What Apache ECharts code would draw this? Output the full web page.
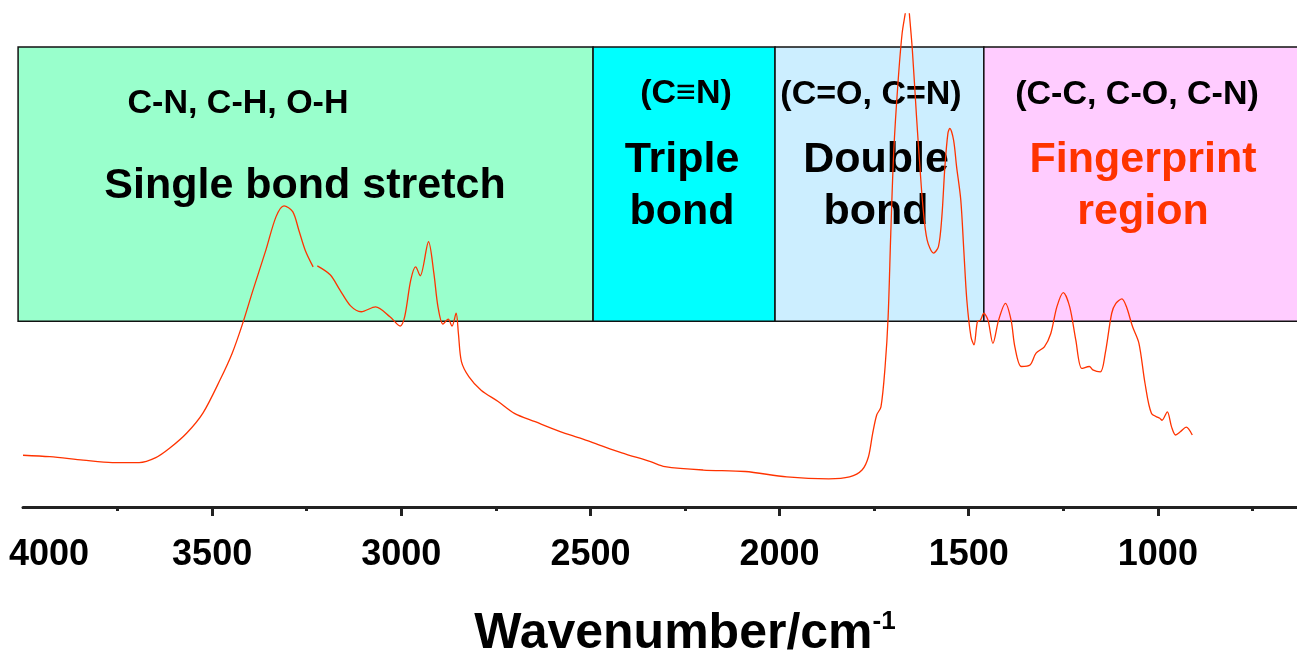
<!DOCTYPE html>
<html>
<head>
<meta charset="utf-8">
<script src="https://cdn.jsdelivr.net/npm/echarts@6.0.0/dist/echarts.min.js"></script>
<style>
html,body{margin:0;padding:0;background:#fff;}
#chart{width:1297px;height:655px;}
</style>
</head>
<body>
<div id="chart"></div>
<script>
// ---- data ----
const wavenumbers = [4000,3929,3841,3764,3693,3649,3611,3567,3524,3479,3447,3419,3392,3358,3331,3310,3287,3271,3254,3233,3228,3222,3188,3162,3134,3106,3068,3030,3003,2991,2975,2962,2950,2928,2914,2903,2890,2876,2866,2855,2849,2841,2821,2789,2744,2701,2646,2580,2525,2470,2417,2341,2303,2202,2091,1981,1870,1815,1782,1765,1754,1743,1732,1721,1713,1706,1698,1687,1676,1666,1662,1658,1649,1638,1629,1621,1610,1593,1580,1571,1563,1555,1550,1540,1532,1521,1513,1505,1494,1486,1477,1469,1460,1449,1436,1421,1403,1388,1378,1361,1338,1322,1300,1283,1267,1250,1233,1217,1201,1181,1172,1152,1139,1122,1111,1095,1083,1067,1050,1034,1017,995,989,975,964,953,940,925,909];
const absorbance = [10.5,10.2,9.5,9.0,9.0,10.0,12.0,15.0,19.1,25.8,31.2,37.3,44.0,52.1,58.9,61.1,59.9,56.2,52.1,48.7,null,48.9,47.1,44.0,40.8,39.6,40.6,38.6,36.7,38.6,46.0,48.7,46.9,53.8,47.5,40.6,37.1,38.1,36.7,39.3,35.2,29.5,26.4,23.7,21.4,19.0,17.3,15.3,13.9,12.4,11.0,9.2,8.2,7.5,7.2,6.1,5.7,6.1,7.5,10.2,14.9,18.7,20.3,28.5,38.6,55.6,72.4,86.0,96.1,101,104,101,92.7,79.2,69.0,60.9,54.2,51.5,52.8,58.9,69.0,75.8,76.8,74.4,69.0,62.3,52.1,42.0,34.5,32.9,37.6,37.9,39.3,37.9,33.2,37.9,41.3,37.9,32.5,28.5,28.8,31.2,32.5,35.2,40.6,43.5,40.6,33.9,28.1,28.5,27.8,27.4,31.2,39.3,41.3,42.2,40.6,36.6,33.2,25.1,19.0,18.0,17.6,19.3,16.3,14.6,15.3,16.2,14.6];

const regionStart = [4013, 2493, 2012, 1460];
const regionEnd   = [2493, 2012, 1460, 500];
const regionBottom = 37.7;
const regionTop = 93.3;
const regionColors = ['#99ffcc', '#00ffff', '#cceeff', '#ffccff'];

const xTicks = [4000, 3500, 3000, 2500, 2000, 1500, 1000];

// ---- build ----
const FONT = '"Liberation Sans", Arial, Helvetica, sans-serif';
const spectrum = wavenumbers.map((w, i) => [w, absorbance[i] === null ? '-' : absorbance[i]]);
const boxes = regionStart.map((s, i) => [s, regionEnd[i], regionBottom, regionTop]);

const chart = echarts.init(document.getElementById('chart'), null, {renderer: 'canvas'});

function txt(text, x, y, size, color, lh) {
  return {
    type: 'text', z: 2,
    style: {
      text: text, x: x, y: y,
      fontSize: size, fontWeight: 'bold', fontFamily: FONT,
      fill: color, align: 'center', verticalAlign: 'middle',
      lineHeight: lh || size
    }
  };
}

chart.setOption({
  animation: false,
  backgroundColor: '#ffffff',
  grid: {left: 23, width: 1324, top: 14, bottom: 148, containLabel: false, outerBoundsMode: 'none'},
  xAxis: {
    type: 'value', inverse: true, min: 500, max: 4000, interval: 500,
    splitLine: {show: false},
    axisLine: {show: true, lineStyle: {color: '#222', width: 3}},
    axisTick: {show: true, length: 9, lineStyle: {color: '#222', width: 3}},
    minorTick: {show: true, splitNumber: 2, length: 4, lineStyle: {color: '#222', width: 3}},
    minorSplitLine: {show: false},
    axisLabel: {
      margin: 30, fontSize: 36, fontWeight: 'bold', fontFamily: FONT, color: '#000',
      formatter: function (v) { return v === xTicks[0] ? '{first|' + v + '}' : String(v); },
      rich: {first: {padding: [0, 0, 0, 52], fontSize: 36, fontWeight: 'bold', fontFamily: FONT, color: '#000'}}
    },
    name: '{a|Wavenumber/cm}{s|-1}',
    nameLocation: 'middle', nameGap: 102,
    nameTextStyle: {
      rich: {
        a: {fontSize: 50, fontWeight: 'bold', fontFamily: FONT, color: '#000', lineHeight: 50},
        s: {fontSize: 26, fontWeight: 'bold', fontFamily: FONT, color: '#000', verticalAlign: 'top', lineHeight: 26}
      }
    }
  },
  yAxis: {type: 'value', min: 0, max: 100, show: false},
  graphic: [
    txt('C-N, C-H, O-H', 238, 104, 34, '#000'),
    txt('Single bond stretch', 305, 186, 43, '#000'),
    txt('(C≡N)', 686, 94, 34, '#000'),
    txt('Triple\nbond', 682, 186, 43, '#000', 52),
    txt('(C=O, C=N)', 871, 95, 34, '#000'),
    txt('Double\nbond', 876, 186, 43, '#000', 52),
    txt('(C-C, C-O, C-N)', 1137, 95, 34, '#000'),
    txt('Fingerprint\nregion', 1143, 186, 43, '#ff3300', 52),
    {type: 'rect', z: 5, silent: true, shape: {x: 19, y: 509, width: 7, height: 9}, style: {fill: '#ffffff'}}
  ],
  series: [
    {
      type: 'custom', z: 1, clip: false, silent: true,
      data: boxes,
      encode: {x: [0, 1], y: [2, 3]},
      renderItem: function (params, api) {
        const a = api.coord([api.value(0), api.value(3)]);
        const b = api.coord([api.value(1), api.value(2)]);
        return {
          type: 'rect',
          shape: {x: Math.min(a[0], b[0]), y: Math.min(a[1], b[1]), width: Math.abs(b[0] - a[0]), height: Math.abs(b[1] - a[1])},
          style: {fill: regionColors[params.dataIndex], stroke: '#111', lineWidth: 1.5}
        };
      }
    },
    {
      type: 'line', z: 3, data: spectrum, showSymbol: false, symbol: 'none',
      smooth: 0.3, connectNulls: false, clip: true,
      lineStyle: {color: '#ff3300', width: 1.3}
    }
  ]
});
</script>
</body>
</html>
